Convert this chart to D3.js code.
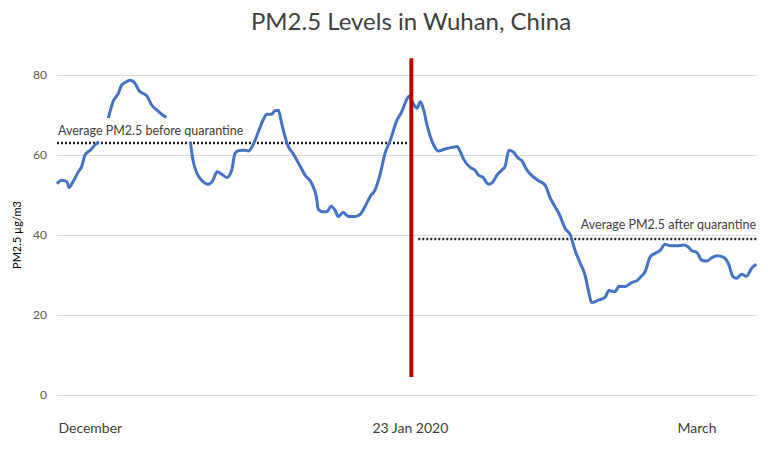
<!DOCTYPE html>
<html>
<head>
<meta charset="utf-8">
<script src="https://cdn.jsdelivr.net/npm/d3@7"></script>
<style>
  body { margin: 0; background: #fff; }
  text { font-family: Lato, "Noto Sans", sans-serif; }
</style>
</head>
<body>
<div id="chart"></div>
<script>
// days since 1 Dec 2019 (smoothed hourly series), null = gap in the record
var days = [0, 0.7, 1.5, 1.8, 2.4, 3.2, 3.7, 4.2, 5.0, 5.7, 6.3, 7.0,
  7.7, 8.4, 9.2, 9.7, 10.4, 11.0, 11.7, 12.3, 13.5, 14.2, 15.0, 15.7, 16.4, 18.0,
  20.0, 20.4, 21.0, 21.7, 22.7, 23.4, 24.0, 24.7, 25.5, 26.2, 26.7, 27.3, 28.2, 28.7,
  29.4, 30.2, 30.9, 31.5, 32.2, 32.7, 33.2, 33.7, 34.2, 34.7, 35.4, 36.5, 37.2, 38.2,
  38.9, 39.2, 39.9, 40.5, 41.1, 41.7, 42.2, 42.9, 43.8, 44.7, 45.5, 46.2, 47.0, 47.7,
  48.5, 49.2, 50.0, 51.0, 51.7, 52.2, 52.8, 53.4, 54.0, 54.5, 55.0, 55.5, 56.0, 56.5,
  57.2, 58.2, 59.2, 60.0, 60.5, 61.0, 62.0, 62.7, 63.2, 63.9, 64.7, 65.3, 66.0, 66.7,
  67.2, 67.8, 68.4, 69.2, 69.7, 70.5, 71.4, 72.2, 73.2, 74.0, 74.7, 75.5, 76.2, 77.0,
  77.7, 78.5, 79.2, 79.7, 80.2, 81.2, 82.2, 82.8, 83.7, 84.3, 85.2, 86.2, 87.0, 87.6,
  88.2, 89.0, 89.7, 90.5, 91.2, 92.0, 93.0, 94.0, 94.6, 95.2, 96.0, 96.7, 97.5, 98.2,
  99.0, 100.0, 100.7, 101.4, 101.9, 102.7, 103.4, 104.2, 104.9];
var pm25 = [52.8, 53.7, 53.3, 51.9, 53.3, 55.8, 57.1, 60.0, 61.2, 62.5, 63.3, null,
  69.2, 73.3, 75.4, 77.5, 78.3, 78.7, 77.9, 76.1, 74.7, 72.5, 71.2, 70.2, 69.4, null,
  63.3, 58.7, 55.4, 53.7, 52.7, 53.7, 55.8, 55.2, 54.4, 56.2, 60.4, 61.1, 61.2, 61.0,
  62.5, 65.8, 68.7, 70.2, 70.2, 71.1, 71.2, 67.9, 64.6, 62.1, 60.4, 57.1, 55.0, 52.9,
  49.6, 46.4, 45.8, 45.8, 47.2, 46.2, 44.6, 45.6, 44.6, 44.6, 45.2, 47.1, 49.7, 51.2,
  55.4, 60.4, 63.7, 68.7, 70.8, 72.9, 74.7, 72.9, 71.7, 73.3, 71.2, 67.5, 64.6, 62.5,
  61.0, 61.5, 61.9, 62.1, 60.8, 58.9, 56.9, 56.2, 55.0, 54.4, 52.7, 53.1, 55.0, 56.2,
  57.1, 61.2, 60.8, 59.2, 58.6, 56.2, 54.6, 53.6, 52.5, 49.2, 47.1, 44.6, 41.7, 40.0,
  36.2, 32.9, 30.0, 26.2, 23.1, 23.7, 24.4, 26.1, 25.8, 27.2, 27.1, 28.1, 28.6, 29.6,
  30.8, 34.6, 35.4, 36.2, 37.7, 37.3, 37.3, 37.5, 37.1, 36.1, 35.6, 33.7, 33.5, 34.3,
  34.8, 34.4, 32.9, 29.6, 29.2, 30.2, 29.7, 31.7, 32.7];

var yTicks = [0, 20, 40, 60, 80];
var xLabelDays = [5, 53, 96];
var xLabels = ["December", "23 Jan 2020", "March"];

var quarantineDay = 53;
var quarantineSpan = [4.5, 84.2];
var avgBefore = 63, avgBeforeSpan = [0, 52.5];
var avgAfter = 39, avgAfterSpan = [54.2, 105];

var width = 768, height = 452;
var margin = { top: 75, right: 11, bottom: 57, left: 57 };

var svg = d3.select("#chart").append("svg")
  .attr("width", width)
  .attr("height", height);

var x = d3.scaleLinear().domain([0, 105]).range([margin.left, width - margin.right]);
var y = d3.scaleLinear().domain([0, 80]).range([height - margin.bottom, margin.top]);

// gridlines + tick labels
var yAxis = svg.append("g")
  .attr("transform", "translate(" + margin.left + ",0)")
  .call(d3.axisLeft(y).tickValues(yTicks).tickSize(-(width - margin.left - margin.right)).tickPadding(10));
yAxis.select(".domain").remove();
yAxis.selectAll(".tick line").attr("stroke", "#d9d9d9").attr("stroke-width", 1);
yAxis.selectAll(".tick text")
  .attr("fill", "#595959")
  .style("font-size", "12px")
  .style("font-family", "Lato, 'Noto Sans', sans-serif");

// x labels
svg.selectAll(".xlab").data(xLabels).enter().append("text")
  .attr("class", "xlab")
  .attr("x", function (d, i) { return x(xLabelDays[i]); })
  .attr("y", 433)
  .attr("text-anchor", "middle")
  .attr("fill", "#404040")
  .style("font-size", "14px")
  .text(function (d) { return d; });

// title
svg.append("text")
  .attr("x", 411)
  .attr("y", 30)
  .attr("text-anchor", "middle")
  .attr("fill", "#404040")
  .style("font-size", "24px")
  .text("PM2.5 Levels in Wuhan, China");

// y axis title
svg.append("text")
  .attr("transform", "translate(21," + ((y(0) + y(80)) / 2) + ") rotate(-90)")
  .attr("text-anchor", "middle")
  .attr("fill", "#000")
  .style("font-size", "11px")
  .text("PM2.5 µg/m3");

// average lines
function avgLine(val, span) {
  svg.append("line")
    .attr("x1", x(span[0])).attr("x2", x(span[1]))
    .attr("y1", y(val)).attr("y2", y(val))
    .attr("stroke", "#222")
    .attr("stroke-width", 2.5)
    .attr("stroke-dasharray", "2,2");
}
avgLine(avgBefore, avgBeforeSpan);
avgLine(avgAfter, avgAfterSpan);

svg.append("text")
  .attr("x", x(avgBeforeSpan[0]) + 1)
  .attr("y", y(avgBefore) - 8)
  .attr("fill", "#404040")
  .style("font-size", "12.5px")
  .text("Average PM2.5 before quarantine");

svg.append("text")
  .attr("x", x(avgAfterSpan[1]) - 1)
  .attr("y", y(avgAfter) - 10)
  .attr("text-anchor", "end")
  .attr("fill", "#404040")
  .style("font-size", "12.5px")
  .text("Average PM2.5 after quarantine");

// series
var line = d3.line()
  .defined(function (d) { return d[1] != null; })
  .x(function (d) { return x(d[0]); })
  .y(function (d) { return y(d[1]); })
  .curve(d3.curveMonotoneX);

svg.append("path")
  .datum(d3.zip(days, pm25))
  .attr("fill", "none")
  .attr("stroke", "#4472c4")
  .attr("stroke-width", 3)
  .attr("stroke-linejoin", "round")
  .attr("d", line);

// quarantine marker
svg.append("line")
  .attr("x1", x(quarantineDay) + 1).attr("x2", x(quarantineDay) + 1)
  .attr("y1", y(quarantineSpan[0])).attr("y2", y(quarantineSpan[1]))
  .attr("stroke", "#c00000")
  .attr("stroke-width", 4);
</script>
</body>
</html>
